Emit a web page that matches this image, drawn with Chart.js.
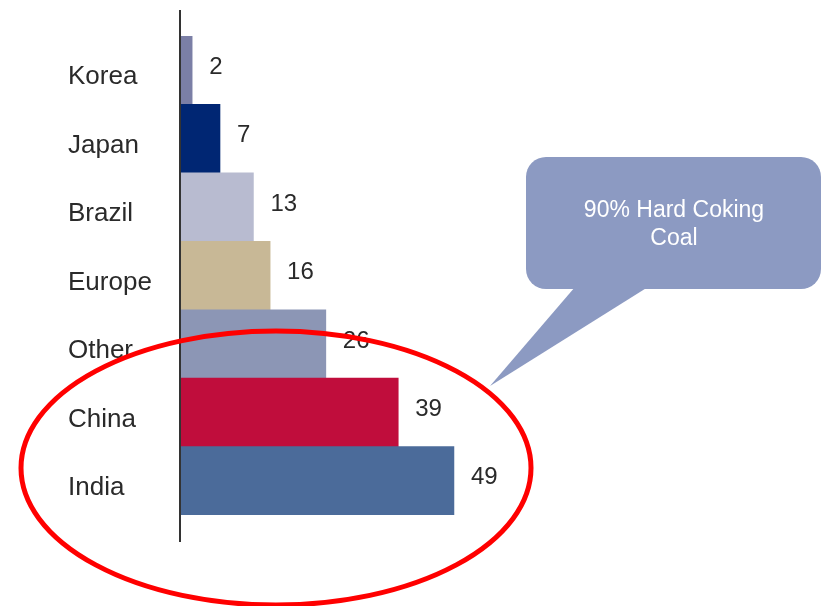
<!DOCTYPE html>
<html>
<head>
<meta charset="utf-8">
<script src="https://cdn.jsdelivr.net/npm/chart.js@4"></script>
<style>
  html, body { margin: 0; padding: 0; background: #fff; }
  #wrap { width: 825px; height: 606px; position: relative; }
</style>
</head>
<body>
<div id="wrap"><canvas id="coalChart"></canvas></div>
<script>
const regions = ['Korea', 'Japan', 'Brazil', 'Europe', 'Other', 'China', 'India'];
const imports = [2, 7, 13, 16, 26, 39, 49];
const barColors = ['#7b7fa6', '#002673', '#b8bbd0', '#c8b896', '#8c96b5', '#c00d3c', '#4b6b9a'];
const calloutLines = ['90% Hard Coking', 'Coal'];

const FONT = '"Liberation Sans", Arial, sans-serif';

// value labels, axis line, callout bubble and red ellipse
const decorations = {
    id: 'decorations',
    afterDatasetsDraw(chart) {
        const ctx = chart.ctx;
        const meta = chart.getDatasetMeta(0);
        ctx.save();
        ctx.font = '24px ' + FONT;
        ctx.fillStyle = '#2a2a2a';
        ctx.textAlign = 'left';
        ctx.textBaseline = 'middle';
        meta.data.forEach((bar, i) => {
            ctx.fillText(String(imports[i]), bar.x + 17, bar.y - 3);
        });

        // vertical axis line, longer than the bars
        const a = chart.chartArea;
        ctx.strokeStyle = '#333';
        ctx.lineWidth = 2;
        ctx.beginPath();
        ctx.moveTo(a.left - 1, a.top - 26);
        ctx.lineTo(a.left - 1, a.bottom + 27);
        ctx.stroke();

        // callout bubble
        ctx.fillStyle = '#8c9ac2';
        ctx.beginPath();
        ctx.roundRect(526, 157, 295, 132, 20);
        ctx.fill();
        ctx.beginPath();
        ctx.moveTo(575, 287);
        ctx.lineTo(648, 287);
        ctx.lineTo(490, 386);
        ctx.closePath();
        ctx.fill();
        ctx.fillStyle = '#ffffff';
        ctx.font = '23px ' + FONT;
        ctx.textAlign = 'center';
        calloutLines.forEach((t, i) => ctx.fillText(t, 674, 211 + i * 28));

        // red ellipse
        ctx.strokeStyle = '#ff0000';
        ctx.lineWidth = 5;
        ctx.beginPath();
        ctx.ellipse(276, 468, 255, 137, 0, 0, Math.PI * 2);
        ctx.stroke();
        ctx.restore();
    }
};

new Chart(document.getElementById('coalChart').getContext('2d'), {
    type: 'bar',
    data: {
        labels: regions,
        datasets: [{ data: imports, backgroundColor: barColors, categoryPercentage: 1, barPercentage: 1, borderWidth: 0 }]
    },
    options: {
        indexAxis: 'y',
        responsive: true,
        maintainAspectRatio: false,
        animation: false,
        layout: { padding: { left: 68, top: 36, bottom: 91, right: 87 } },
        plugins: { legend: { display: false }, tooltip: { enabled: false } },
        scales: {
            x: { display: false, min: 0, max: 100 },
            y: {
                grid: { display: false, drawTicks: false },
                border: { display: false },
                ticks: { crossAlign: 'far', padding: 0, labelOffset: 7, color: '#2a2a2a', font: { family: FONT, size: 26 } },
                afterFit(scale) { scale.width = 113; }
            }
        }
    },
    plugins: [decorations]
});
</script>
</body>
</html>
